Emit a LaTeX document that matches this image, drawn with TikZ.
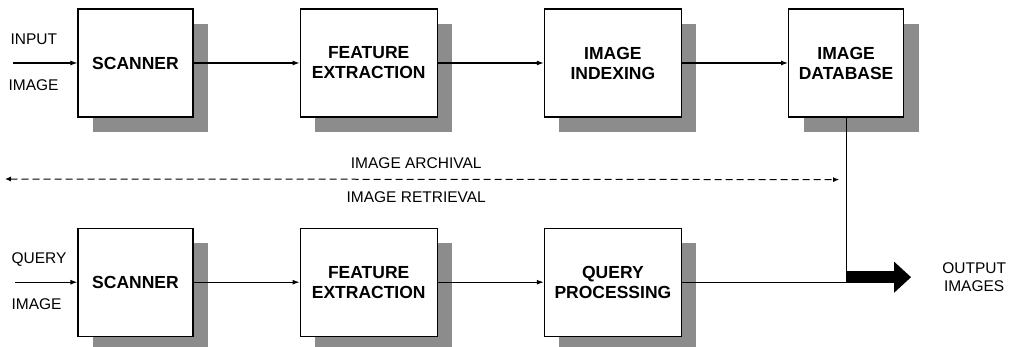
\documentclass[tikz,border=0pt]{standalone}
\usepackage{fontspec}
\setsansfont{Liberation Sans}
\usepackage{tikz}
\usetikzlibrary{arrows.meta,positioning,shadows}
\tikzset{
blknode/.style = {align=center, text centered,
font=\sffamily\bfseries\fontsize{17.5}{20}\selectfont},
blk_s/.style = {blknode, rectangle, draw=black, fill=white, line width=1.2pt, minimum width=115pt, minimum height=108pt,
  drop shadow={shadow xshift=15pt, shadow yshift=-15pt, fill=black!45, opacity=1}},% bloc etroit
blk_w/.style = {blk_s, minimum width=137pt},% bloc large
lbl/.style = {inner sep=0pt, align=center, font=\sffamily\fontsize{15.5}{18}\selectfont},% texte libre
flow/.style = {line width=1.1pt, -{Latex[length=7pt,width=5pt]}},
dflow/.style = {line width=1pt, dash pattern=on 7pt off 4pt, {Latex[length=6pt,width=5pt]}-{Latex[length=6pt,width=5pt]}},
bigflow/.style = {line width=12pt, -{Triangle[length=17pt,width=30pt]}}
}
\begin{document}
\begin{tikzpicture}[x=1pt, y=1pt, node distance=106pt]
	\useasboundingbox (0,0) rectangle (1010,-347);
	% archivage
	\node [blk_s] (scan1) at (135.5,-63) {SCANNER};
	\node [blk_w, right=of scan1] (feat1) {FEATURE\\EXTRACTION};
	\node [blk_w, right=of feat1] (idx) {IMAGE\\INDEXING};
	\node [blk_s, right=of idx] (db) {IMAGE\\DATABASE};
	% recherche
	\node [blk_s, below=110pt of scan1] (scan2) {SCANNER};
	\node [blk_w, right=of scan2] (feat2) {FEATURE\\EXTRACTION};
	\node [blk_w, right=of feat2] (qproc) {QUERY\\PROCESSING};

	\coordinate [left=64pt of scan1.west] (in1);
	\coordinate [left=62pt of scan2.west] (in2);
	\node [lbl, above right=18pt and -3pt of in1] (in1_t) {INPUT};
	\node [lbl, below right=16pt and -5pt of in1] (in1_b) {IMAGE};
	\node [lbl, above right=16pt and -4pt of in2] (in2_t) {QUERY};
	\node [lbl, below right=16pt and -4pt of in2] (in2_b) {IMAGE};

	\draw [flow] (in1) -- (scan1);
	\draw [flow] (scan1) -- (feat1);
	\draw [flow] (feat1) -- (idx);
	\draw [flow] (idx) -- (db);
	\draw [flow] (in2) -- (scan2);
	\draw [flow] (scan2) -- (feat2);
	\draw [flow] (feat2) -- (qproc);

	% sortie
	\coordinate (tap) at (db.south |- qproc.east);
	\node [lbl, right=96pt of tap, yshift=5pt] (outimg) {OUTPUT\\IMAGES};
	\draw [line width=1.1pt] (db.south) -- (tap);
	\draw [line width=1.1pt] (qproc) -- (tap);
	\draw [bigflow, shorten >=31pt] ([yshift=5pt]tap) -- (outimg.west);

	\coordinate [below left=62pt and 7pt of db.south] (arcR);
	\coordinate (arcL) at (5,-179);
	\draw [dflow] (arcL) -- (arcR)
	  node [lbl, pos=0.493, above=10pt] (arch) {IMAGE ARCHIVAL}
	  node [lbl, pos=0.493, below=12pt] (retr) {IMAGE RETRIEVAL};
\end{tikzpicture}
\end{document}
